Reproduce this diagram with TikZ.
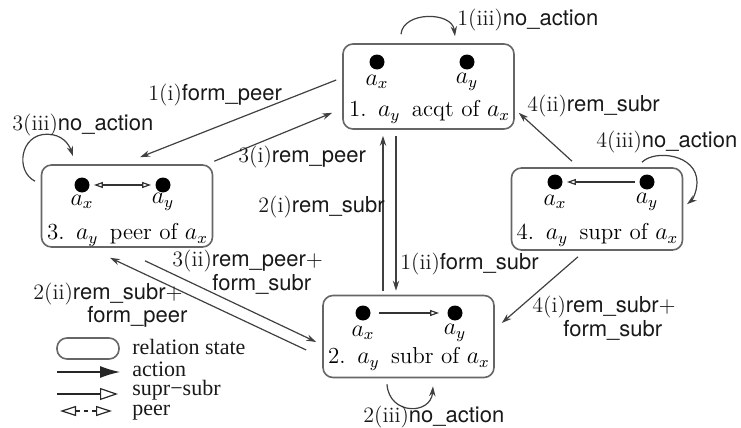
\documentclass[tikz,border=0pt]{standalone}
\usepackage{fontspec}
\setsansfont{TeX Gyre Heros}
\newfontfamily\legendfont{Liberation Serif}
\usetikzlibrary{arrows.meta,calc}
\newcommand{\lbl}[2]{#1\textsf{#2}}
\begin{document}
\begin{tikzpicture}[x=0.5pt,y=-0.5pt,
  state/.style={draw=black!60, line width=0.8pt, rounded corners=5pt,
    minimum width=85.5pt, minimum height=41pt, inner sep=0pt},
  dot/.style={circle, fill=black, minimum size=7.5pt, inner sep=0pt},
  agent/.style={font=\fontsize{12}{14}\selectfont, inner sep=0pt},
  stext/.style={font=\fontsize{11.5}{14}\selectfont, inner sep=0pt},
  conn/.style={draw=black!75, line width=0.6pt, -{Stealth[length=5pt,width=3.2pt]}},
  loopc/.style={draw=black!75, line width=0.6pt, -{Stealth[length=5pt,width=3.2pt]}},
  subr/.style={draw=black!80, line width=0.6pt, -{Triangle[open,length=4.5pt,width=3pt]}, shorten >=2pt, shorten <=2pt},
  peerar/.style={draw=black!80, line width=0.6pt, {Triangle[open,length=4.5pt,width=3pt]}-{Triangle[open,length=4.5pt,width=3pt]}, shorten >=2pt, shorten <=2pt},
  lab/.style={font=\fontsize{11}{8.5}\selectfont, inner sep=0pt, anchor=west, align=left, text=black!90},
  leg/.style={font=\legendfont\fontsize{11}{13}\selectfont, inner sep=0pt, anchor=west, text=black!90}
]
\useasboundingbox (0,0) rectangle (741,428);

% states
\node[state, minimum height=42.5pt] (b1) at (428.5,86.5) {};
\node[state] (b3) at (127,206) {};
\node[state] (b4) at (597,209) {};
\node[state] (b2) at (408.5,336.5) {};

% state 1
\node[dot] (d1x) at (377,62) {};
\node[dot] (d1y) at (467,62) {};
\node[agent] (a1x) at (377,82) {$a_x$};
\node[agent] (a1y) at (467,82) {$a_y$};
\node[stext] (t1) at (429.5,112) {1.\enspace$a_y$\enspace acqt of $a_x$};

% state 3
\node[dot] (d3x) at (82,185) {};
\node[dot] (d3y) at (163,185) {};
\node[agent] (a3x) at (82,202) {$a_x$};
\node[agent] (a3y) at (163,202) {$a_y$};
\node[stext] (t3) at (127.5,235) {3.\enspace$a_y$\enspace peer of $a_x$};
\draw[peerar] (d3x) -- (d3y);

% state 4
\node[dot] (d4x) at (555,182) {};
\node[dot] (d4y) at (647,182) {};
\node[agent] (a4x) at (555,202) {$a_x$};
\node[agent] (a4y) at (647,202) {$a_y$};
\node[stext] (t4) at (597.5,235) {4.\enspace$a_y$\enspace supr of $a_x$};
\draw[subr] (d4y) -- (d4x);

% state 2
\node[dot] (d2x) at (363,313) {};
\node[dot] (d2y) at (455,313) {};
\node[agent] (a2x) at (363,333) {$a_x$};
\node[agent] (a2y) at (455,333) {$a_y$};
\node[stext] (t2) at (409,359) {2.\enspace$a_y$\enspace subr of $a_x$};
\draw[subr, shorten <=4pt, shorten >=4pt] (d2x) -- (d2y);

% transitions
\draw[conn] ([shift={(-6,-6.5)}]b1.west) -- ([shift={(13,-7)}]b3.north);
\draw[conn] ([shift={(1,-3)}]b3.north east) -- ([shift={(-10,-17)}]b1.south west);
\draw[conn] ([shift={(-25.5,-4)}]b2.north) -- ([shift={(-45.5,6)}]b1.south);
\draw[conn] ([shift={(-32.5,6)}]b1.south) -- ([shift={(-12.5,-4)}]b2.north);
\draw[conn] ([shift={(-25,-6)}]b4.north) -- ([shift={(4,-17)}]b1.south east);
\draw[conn] ([shift={(-19,6)}]b4.south) -- ([shift={(7,-13.5)}]b2.east);
\draw[conn] ([shift={(18,13)}]b3.south) -- ([shift={(-6,5.5)}]b2.west);
\draw[conn] ([shift={(-16,13.5)}]b2.west) -- ([shift={(-17,10)}]b3.south);

% self loops
\draw[loopc] ([shift={(-27.5,-9)}]b1.north) .. controls +(2,-23) and +(-3,-25) .. ([shift={(26.5,-7)}]b1.north);
\draw[loopc] ([shift={(-21.5,6)}]b2.south) .. controls +(2,31) and +(-2,29) .. ([shift={(24.5,8)}]b2.south);
\draw[loopc] ([shift={(-92,17)}]b3.north) .. controls +(-20,-10) and +(-27,0) .. ++(12,-47)
  .. controls +(15,0) and +(-4,-12) .. ++(26,22);
\draw[loopc] ([shift={(45,-5)}]b4.north) .. controls +(13,-13) and +(0,-28) .. ++(55,20)
  .. controls +(0,10) and +(5,-4) .. ++(-10,22);

% labels
\node[lab] (l1iii) at (457,20) {\lbl{1(iii)}{no\_action}};
\node[lab] (l1i) at (148,95) {\lbl{1(i)}{form\_peer}};
\node[lab] (l3iii) at (12,125) {\lbl{3(iii)}{no\_action}};
\node[lab] (l3i) at (238,157) {\lbl{3(i)}{rem\_peer}};
\node[lab] (l4ii) at (527,106) {\lbl{4(ii)}{rem\_subr}};
\node[lab] (l4iii) at (596,142) {\lbl{4(iii)}{no\_action}};
\node[lab] (l2i) at (258,207) {\lbl{2(i)}{rem\_subr}};
\node[lab] (l1ii) at (400,264) {\lbl{1(ii)}{form\_subr}};
\node[lab] (l3ii) at (172,272.5) {\lbl{3(ii)}{rem\_peer}$+$\\\hspace*{20pt}\textsf{form\_subr}};
\node[lab] (l2ii) at (33,305) {\lbl{2(ii)}{rem\_subr}$+$\\\hspace*{27pt}\textsf{form\_peer}};
\node[lab] (l4i) at (532,318.5) {\lbl{4(i)}{rem\_subr}$+$\\\hspace*{15.5pt}\textsf{form\_subr}};
\node[lab] (l2iii) at (363,417) {\lbl{2(iii)}{no\_action}};

% legend
\node[draw=black!60, line width=0.8pt, rounded corners=5pt, minimum width=31pt, minimum height=10.5pt, inner sep=0pt] (lgbox) at (88,348.5) {};
\coordinate (la1) at (57,372);
\coordinate (la2) at (120,372);
\draw[black!85, line width=0.6pt, -{Latex[length=10pt,width=6pt]}] (la1) -- (la2);
\coordinate (ls1) at (57,394);
\coordinate (ls2) at (118,394);
\draw[black!85, line width=0.6pt, -{Triangle[open,length=9pt,width=6pt]}] (ls1) -- (ls2);
\coordinate (lp1) at (60,411);
\coordinate (lp2) at (112,411);
\draw[black!85, line width=0.6pt, dash pattern=on 2pt off 2pt, {Triangle[open,length=8pt,width=5pt]}-{Triangle[open,length=8pt,width=5pt]}] (lp1) -- (lp2);
\node[leg] (lt1) at (132,347) {relation state};
\node[leg] (lt2) at (132,369) {action};
\node[leg] (lt3) at (132,390) {supr−subr};
\node[leg] (lt4) at (132,413) {peer};
\end{tikzpicture}
\end{document}
